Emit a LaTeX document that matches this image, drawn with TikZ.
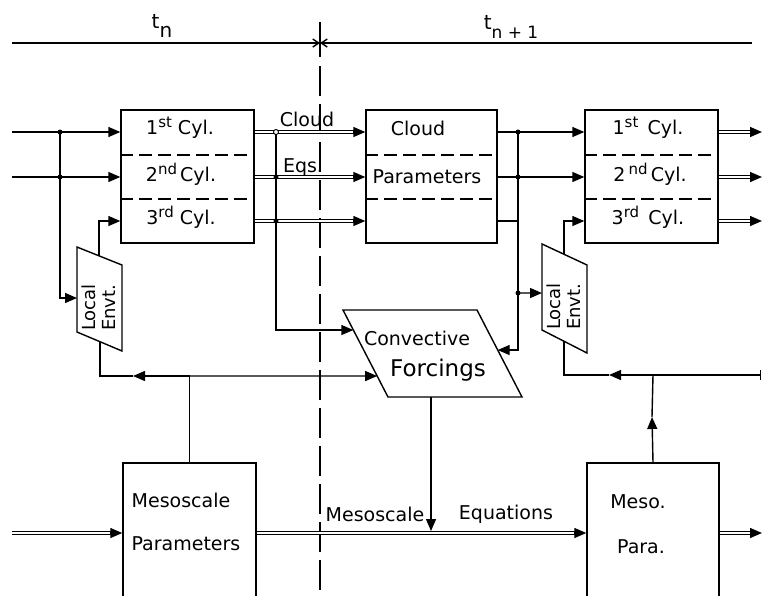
\documentclass[tikz,border=0pt]{standalone}
\usepackage{fontspec}
\setmainfont{DejaVu Sans}
\usetikzlibrary{arrows.meta,calc}
\tikzset{
  ln/.style={line width=1.4pt},
  arr/.style={ln,-{Triangle[length=12pt,width=10pt]}},
  dblline/.style={double,double distance=2.4pt,line width=1.1pt},
  cbox/.style={draw,line width=1.4pt,minimum width=133pt,minimum height=133pt,inner sep=0pt},
  mbox/.style={draw,line width=1.4pt,minimum width=133pt,minimum height=152pt,inner sep=0pt},
  txt/.style={font=\fontsize{19}{22}\selectfont,inner sep=0pt},
  dot/.style={circle,fill,inner sep=0pt,minimum size=5pt},
  odot/.style={circle,draw,fill=white,line width=0.9pt,inner sep=0pt,minimum size=5pt},
  divider/.style={line width=1.2pt,dash pattern=on 13pt off 6pt}
}
\newcommand\dblarr[2]{%
  \draw[dblline] #1 -- ($#2+(-10,0)$);
  \draw[arr] ($#2+(-12,0)$) -- #2;}
\newcommand\sups[1]{\raisebox{7pt}{\fontsize{15}{16}\selectfont #1}}
\begin{document}
\begin{tikzpicture}[x=1pt,y=-1pt]
\useasboundingbox (0,0) rectangle (763,595);
\clip (0,0) rectangle (763,595);
% time axis
\coordinate (tl) at (12,43);
\coordinate (tr) at (752,43);
\coordinate (tx) at (320,43);
\draw[ln] (tl) -- (tr);
\draw[ln] (320,22) -- (320,57);
\draw[ln,-{Straight Barb[length=6pt,width=8pt]}] (304,43) -- (tx);
\draw[ln,-{Straight Barb[length=6pt,width=8pt]}] (336,43) -- (tx);
\draw[ln,dash pattern=on 30pt off 8pt] (320,66) -- (320,600);
\node[txt,font=\fontsize{20}{22}\selectfont,anchor=base] (tn) at (162,28) {t\raisebox{-9pt}{n}};
\node[txt,font=\fontsize{20}{22}\selectfont,anchor=base] (tn1) at (511,29) {t\raisebox{-9pt}{\fontsize{17}{20}\selectfont n + 1}};
% row levels
\coordinate (r1) at (0,132);
\coordinate (r2) at (0,177);
\coordinate (r3) at (0,221);
\coordinate (s) at (0,533);
% boxes
\node[cbox] (boxL) at (187.5,176.5) {};
\node[cbox,minimum width=131pt] (boxC) at (431.5,176.5) {};
\node[cbox] (boxR) at (651.5,176.5) {};
\foreach \b in {boxL,boxC,boxR}{
  \draw[divider] (\b.west |- 0,155) -- (\b.east |- 0,155);
  \draw[divider] (\b.west |- 0,199) -- (\b.east |- 0,199);
}
\node[txt] (L1) at (180,128) {1\sups{st} Cyl.};
\node[txt] (L2) at (181,174) {2\sups{nd}\,Cyl.};
\node[txt] (L3) at (181,217) {3\sups{rd} Cyl.};
\node[txt] (C1) at (418,128) {Cloud};
\node[txt] (C2) at (427,177) {Parameters};
\node[txt] (R1) at (648,128) {1\sups{st}\, Cyl.};
\node[txt] (R2) at (650,174) {2\,\sups{nd}\,Cyl.};
\node[txt] (R3) at (648,217) {3\sups{rd}\, Cyl.};
% mesoscale boxes
\node[mbox] (mesoL) at (189.5,539) {};
\node[mbox,minimum width=132pt] (mesoP) at (653,539) {};
\node[txt] (ML1) at (181,500) {Mesoscale};
\node[txt] (ML2) at (186,544) {Parameters};
\node[txt] (MP1) at (638,502) {Meso.};
\node[txt] (MP2) at (641,547) {Para.};
% local environment (left)
\coordinate (lA) at (77,247);
\coordinate (lB) at (122,265);
\coordinate (lC) at (122,351);
\coordinate (lD) at (77,332);
\draw[ln] (lA) -- (lB) -- (lC) -- (lD) -- cycle;
\node[txt,rotate=90,align=left,anchor=west,font=\fontsize{18}{20}\selectfont] (locL) at (99,331) {Local\\Envt.};
\coordinate (lTop) at ($(lA)!0.49!(lB)$);
\coordinate (lBot) at ($(lD)!0.51!(lC)$);
\coordinate (lE) at ($(lA)!0.6!(lD)$);
% local environment (right)
\coordinate (rA) at (542,244);
\coordinate (rB) at (587,265);
\coordinate (rC) at (587,353);
\coordinate (rD) at (542,330);
\draw[ln] (rA) -- (rB) -- (rC) -- (rD) -- cycle;
\node[txt,rotate=90,align=left,anchor=west,font=\fontsize{18}{20}\selectfont] (locR) at (564,330) {Local\\Envt.};
\coordinate (rTop) at ($(rA)!0.49!(rB)$);
\coordinate (rBot) at ($(rD)!0.49!(rC)$);
\coordinate (rE) at ($(rA)!0.57!(rD)$);
% convective forcings
\coordinate (cA) at (343,310);
\coordinate (cB) at (477,310);
\coordinate (cC) at (522,397);
\coordinate (cD) at (388,397);
\draw[ln] (cA) -- (cB) -- (cC) -- (cD) -- cycle;
\node[txt] (conv1) at (417,338) {Convective};
\node[txt,font=\fontsize{23}{26}\selectfont] (conv2) at (438,370) {Forcings};
\coordinate (convL1) at ($(cA)!0.23!(cD)$);
\coordinate (convL2) at ($(cA)!0.759!(cD)$);
\coordinate (convR) at ($(cB)!0.46!(cC)$);
\coordinate (convBot) at ($(cD)!0.321!(cC)$);
% left inputs
\coordinate (inA) at (12,132);
\coordinate (inB) at (12,177);
\draw[arr] (inA) -- (inA -| boxL.west);
\draw[arr] (inB) -- (inB -| boxL.west);
\coordinate (jA) at (60,132);
\coordinate (jB) at (60,177);
\draw[arr] (jA) |- (lE);
\node[dot] at (jA) {};
\node[dot] at (jB) {};
\draw[arr] (lTop) |- (boxL.west |- r3);
% cloud equations (double lines)
\dblarr{(boxL.east |- r1)}{(boxC.west |- r1)}
\dblarr{(boxL.east |- r2)}{(boxC.west |- r2)}
\dblarr{(boxL.east |- r3)}{(boxC.west |- r3)}
\coordinate (k1) at (276,132);
\coordinate (k2) at (276,177);
\coordinate (k3) at (276,221);
\draw[arr] (k1) |- (convL1);
\node[odot] at (k1) {};
\node[dot] at (k2) {};
\node[dot] at (k3) {};
\node[txt,anchor=base] (lblCloud) at (307,126) {Cloud};
\node[txt,anchor=base] (lblEqs) at (303,172) {Eqs.};
% cloud parameters outputs
\draw[arr] (boxC.east |- r1) -- (boxR.west |- r1);
\draw[arr] (boxC.east |- r2) -- (boxR.west |- r2);
\coordinate (m1) at (518,132);
\coordinate (m2) at (518,177);
\coordinate (m3) at (518,221);
\coordinate (m4) at (518,293);
\draw[ln] (boxC.east |- r3) -- (m3);
\draw[arr] (m1) |- (convR);
\draw[arr] (m4) -- (rE);
\node[dot] at (m1) {};
\node[dot] at (m2) {};
\node[dot] at (m4) {};
\draw[arr] (rTop) |- (boxR.west |- r3);
% right outputs
\dblarr{(boxR.east |- r1)}{(762,132)}
\dblarr{(boxR.east |- r2)}{(762,177)}
\dblarr{(boxR.east |- r3)}{(762,221)}
% mesoscale feedback (left)
\coordinate (p) at (mesoL.north |- 0,376);
\draw[ln] (mesoL.north) -- (p);
\draw[arr] (p) -- (133,376);
\draw[ln] (133,376) -- (lBot |- p) -- (lBot);
\draw[arr] (p) -- (convL2);
% mesoscale feedback (right)
\coordinate (q) at (mesoP.north |- 0,375);
\draw[arr] (mesoP.north) -- (652,417);
\draw[ln] (652,417) -- (q);
\draw[arr] (q) -- (609,375);
\draw[ln] (609,375) -- (rBot |- q) -- (rBot);
\draw[ln,-{Bar[width=10pt]}] (q) -- (761,375);
% mesoscale equations
\dblarr{(12,533)}{(mesoL.west |- s)}
\dblarr{(mesoL.east |- s)}{(mesoP.west |- s)}
\dblarr{(mesoP.east |- s)}{(762,533)}
\draw[arr] (convBot) -- (convBot |- 0,531);
\node[txt] (lblMeso) at (375,514) {Mesoscale};
\node[txt] (lblEq) at (506,514) {Equations};
\end{tikzpicture}
\end{document}
